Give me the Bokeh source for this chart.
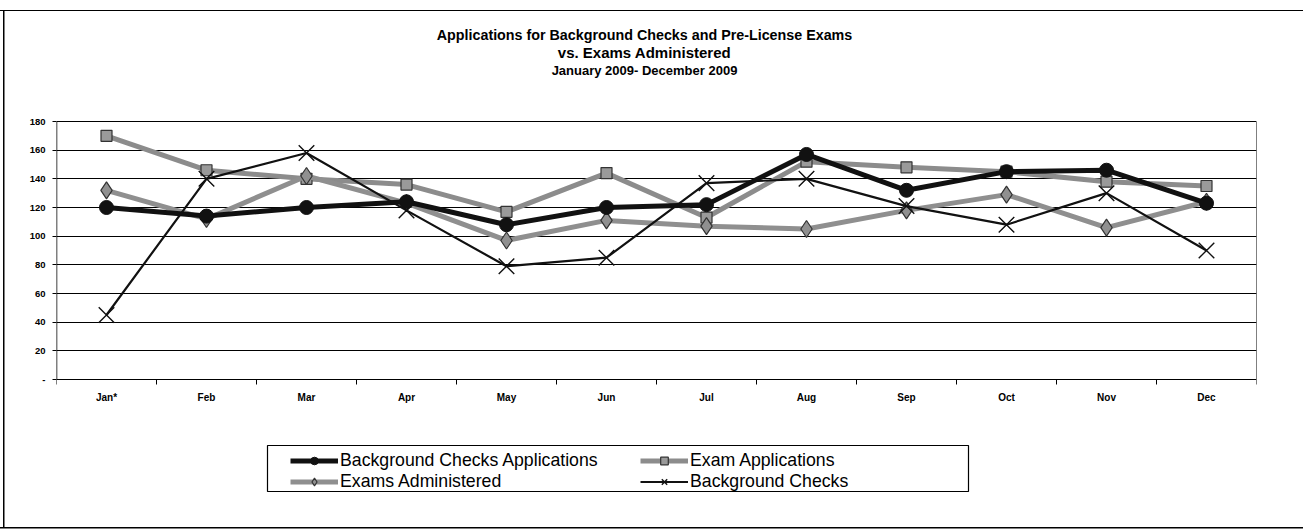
from bokeh.plotting import figure
from bokeh.models import (Range1d, FixedTicker, Legend, LegendItem, Label,
                          BoxAnnotation)
from bokeh.core.properties import value
from bokeh.embed import file_html
from bokeh.resources import INLINE

# Monthly counts, 2009
months = ["Jan*", "Feb", "Mar", "Apr", "May", "Jun",
          "Jul", "Aug", "Sep", "Oct", "Nov", "Dec"]
bg_check_apps = [120, 114, 120, 124, 108, 120, 122, 157, 132, 145, 146, 123]
exam_apps = [170, 146, 140, 136, 117, 144, 113, 152, 148, 145, 138, 135]
exams_administered = [132, 112, 142, 123, 97, 111, 107, 105, 118, 129, 106, 124]
bg_checks = [45, 140, 158, 118, 79, 85, 137, 140, 121, 108, 130, 90]
y_ticks = [0, 20, 40, 60, 80, 100, 120, 140, 160, 180]

FONT = "Liberation Sans"
W, H = 1303, 530
LEFT, RIGHT = 56, 47            # room for the value axis / right margin
PLOT_TOP, PLOT_BOTTOM = 121, 379  # page rows of the 180 and 0 lines
Y_MAX = 180

# the frame spans the full page height so the heading and key can live in it;
# the value range is stretched so 0..180 lands on the chart rows
px_per_unit = (PLOT_BOTTOM - PLOT_TOP) / Y_MAX
y_lo = -(H - PLOT_BOTTOM) / px_per_unit
y_hi = Y_MAX + PLOT_TOP / px_per_unit

# month slots are centred on i + 0.5, with tick marks on the slot boundaries
n = len(months)
xs = [i + 0.5 for i in range(n)]
bounds = list(range(n + 1))

p = figure(width=W, height=H, output_backend="svg", toolbar_location=None,
           x_range=Range1d(0, n), y_range=Range1d(y_lo, y_hi),
           x_axis_location=None,
           min_border_left=LEFT, min_border_right=RIGHT,
           min_border_top=0, min_border_bottom=0)
p.background_fill_alpha = 0
p.border_fill_alpha = 0
p.outline_line_color = None

# page frame (left, top and bottom rules)
p.styles = {
    "background-image": ("linear-gradient(#000,#000), linear-gradient(#000,#000), "
                         "linear-gradient(#000,#000)"),
    "background-size": "1303px 1px, 1.5px 518px, 1303px 1.5px",
    "background-position": "0px 10px, 3px 10px, 0px 527px",
    "background-repeat": "no-repeat",
    "background-color": "white",
}

p.xgrid.grid_line_color = None
p.ygrid.grid_line_color = "black"
p.ygrid.grid_line_width = 1
p.ygrid.ticker = FixedTicker(ticks=y_ticks)

# value axis: 0 shown as a dash
p.yaxis.ticker = FixedTicker(ticks=y_ticks)
p.yaxis.major_label_overrides = {t: ("-" if t == 0 else str(t)) for t in y_ticks}
p.yaxis.major_tick_in = 0
p.yaxis.major_tick_out = 4
p.yaxis.minor_tick_line_color = None
p.yaxis.axis_line_color = None
p.yaxis.major_label_standoff = 7
p.yaxis.major_label_text_font = FONT
p.yaxis.major_label_text_font_style = "bold"
p.yaxis.major_label_text_font_size = "9.5px"
p.yaxis.major_label_text_color = "black"

# chart box sides and month tick marks
p.segment(x0=[0, n], y0=[0, 0], x1=[0, n], y1=[Y_MAX, Y_MAX],
          line_color="black", line_width=[1.5, 1])
tick_len = 5 / px_per_unit
p.segment(x0=bounds, y0=[0] * len(bounds), x1=bounds,
          y1=[-tick_len] * len(bounds), line_color="black", line_width=1)
p.text(x=xs, y=[0] * n, text=months, y_offset=18,
       text_font=value(FONT), text_font_style="bold", text_font_size="10px",
       text_align="center", text_baseline="middle", text_color="black")

# series
l_ea = p.line(xs, exam_apps, line_color="#8c8c8c", line_width=5)
m_ea = p.scatter(xs, exam_apps, marker="square", size=11,
                 fill_color="#9a9a9a", line_color="#333333", line_width=1.2)

l_adm = p.line(xs, exams_administered, line_color="#8f8f8f", line_width=5)
m_adm = p.scatter(xs, exams_administered, marker="diamond", size=17,
                  fill_color="#909090", line_color="#333333", line_width=1.2)

l_bca = p.line(xs, bg_check_apps, line_color="#111111", line_width=5)
m_bca = p.scatter(xs, bg_check_apps, marker="circle", size=14,
                  fill_color="#111111", line_color="#111111")

l_bc = p.line(xs, bg_checks, line_color="#111111", line_width=2.2)
m_bc = p.scatter(xs, bg_checks, marker="x", size=22,
                 line_color="#111111", line_width=1.4)

# key: box drawn separately, entries in two columns filled column by column
p.add_layout(BoxAnnotation(left=267 - LEFT, right=968 - LEFT,
                           bottom=H - 491, top=H - 445,
                           left_units="screen", right_units="screen",
                           bottom_units="screen", top_units="screen",
                           fill_alpha=0, line_color="black", line_alpha=1,
                           line_width=1.2))
legend = Legend(items=[
    LegendItem(label="Background Checks Applications", renderers=[l_bca, m_bca]),
    LegendItem(label="Exams Administered", renderers=[l_adm, m_adm]),
    LegendItem(label="Exam Applications", renderers=[l_ea, m_ea]),
    LegendItem(label="Background Checks", renderers=[l_bc, m_bc]),
], ncols=2, location=(290 - LEFT, H - 492))
legend.label_text_font = FONT
legend.label_text_font_size = "17.7px"
legend.label_text_color = "black"
legend.glyph_width = 48
legend.glyph_height = 19
legend.label_standoff = 2
legend.label_height = 19
legend.label_width = 300
legend.spacing = 0
legend.padding = 0
legend.margin = 0
legend.border_line_color = None
legend.background_fill_alpha = 0
p.add_layout(legend, "center")

# three-line heading
for txt, y, size in [
    ("Applications for Background Checks and Pre-License Exams", 34, "14.3px"),
    ("vs. Exams Administered", 52, "15px"),
    ("January 2009- December 2009", 70, "13px"),
]:
    p.add_layout(Label(x=644 - LEFT, y=H - y, x_units="screen", y_units="screen",
                       text=txt, text_font=FONT, text_font_style="bold",
                       text_font_size=size, text_align="center",
                       text_baseline="middle", text_color="black"))

open("out.html", "w").write(file_html(p, INLINE))
